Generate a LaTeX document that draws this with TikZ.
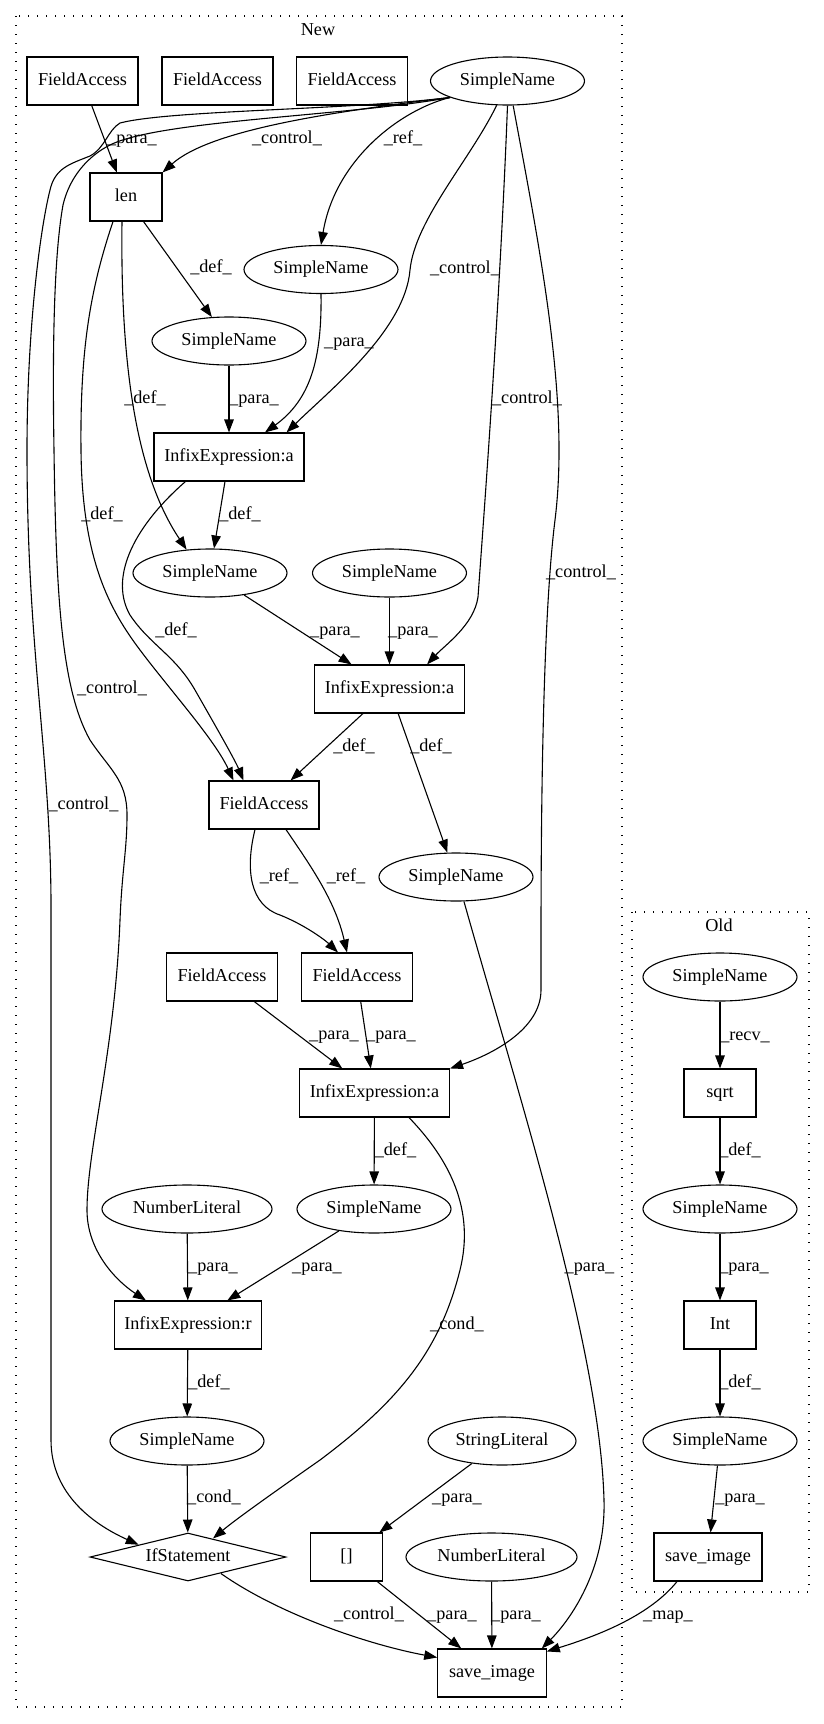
\documentclass[tikz,border=0pt]{standalone}
\usepackage{fontspec}
\setmainfont{Liberation Serif}
\usetikzlibrary{shapes.geometric,arrows.meta,calc}
\begin{document}
\begin{tikzpicture}[x=1pt,y=-1pt,
  every node/.style={font=\fontsize{18.2}{22}\selectfont, inner sep=0pt, text height=12.4pt, text depth=4pt},
  bx/.style={draw, rectangle, line width=1.1pt, minimum height=48pt},
  el/.style={draw, ellipse, line width=1.1pt, minimum height=48pt, minimum width=154pt},
  dm/.style={draw, diamond, line width=1.1pt, minimum width=196pt, minimum height=48pt, shape aspect=4},
  e/.style={-{Triangle[length=13pt,width=9.5pt]}, line width=1.1pt},
  lbl/.style={},
  clu/.style={line width=1.1pt, dash pattern=on 1.3pt off 7.7pt}
]
\useasboundingbox (0,0) rectangle (824,1724);
% clusters
\draw[clu] (16,16) rectangle (622,1707);
\node (newlbl) at (318,31) {New};
\draw[clu] (632,912) rectangle (809,1592);
\node (oldlbl) at (719,927) {Old};

% New nodes
\node[bx,minimum width=111pt] (faA) at (82.5,81) {FieldAccess};
\node[bx,minimum width=111pt] (faB) at (217.5,81) {FieldAccess};
\node[bx,minimum width=111pt] (faC) at (352,81) {FieldAccess};
\node[el] (snTop) at (507.5,81) {SimpleName};
\node[bx,minimum width=72pt] (len) at (126,197) {len};
\node[el] (snRef) at (321,269.5) {SimpleName};
\node[el] (snDef) at (229,341) {SimpleName};
\node[bx,minimum width=150pt] (ix1) at (229,457) {InfixExpression:a};
\node[el] (snA) at (210,573) {SimpleName};
\node[el] (snB) at (389.5,573) {SimpleName};
\node[bx,minimum width=150pt] (ix2) at (389.5,689) {InfixExpression:a};
\node[bx,minimum width=110pt] (faM) at (264,805) {FieldAccess};
\node[el] (snC) at (456,877) {SimpleName};
\node[bx,minimum width=111pt] (faL) at (222,977) {FieldAccess};
\node[bx,minimum width=111pt] (faR) at (357,977) {FieldAccess};
\node[bx,minimum width=150pt] (ix3) at (374.5,1093) {InfixExpression:a};
\node[el,minimum width=170pt] (nl1) at (187,1209) {NumberLiteral};
\node[el] (snD) at (374,1209) {SimpleName};
\node[bx,minimum width=147pt] (ixr) at (188,1325) {InfixExpression:r};
\node[el] (snE) at (187,1441) {SimpleName};
\node[el,minimum width=148pt] (strl) at (502,1441) {StringLiteral};
\node[dm] (ifs) at (188,1557) {IfStatement};
\node[bx,minimum width=72pt] (br) at (346.5,1557) {[]};
\node[el,minimum width=171pt] (nl2) at (491.5,1557) {NumberLiteral};
\node[bx,minimum width=108.5pt] (saveN) at (492,1673) {save\_image};

% Old nodes
\node[el] (oSn1) at (720,977) {SimpleName};
\node[bx,minimum width=72pt] (osqrt) at (720,1093) {sqrt};
\node[el] (oSn2) at (720,1209) {SimpleName};
\node[bx,minimum width=72pt] (oint) at (720,1325) {Int};
\node[el] (oSn3) at (720,1441) {SimpleName};
\node[bx,minimum width=108pt] (oSave) at (708,1557) {save\_image};

% edges
\draw[e] (faA) -- (len);
\draw[e] (snTop.196) .. controls (330,112) and (210,130) .. (len.north east);
\draw[e] (snTop.196) .. controls (400,110) and (335,160) .. (snRef.north);
\draw[e] (snTop.246) .. controls (470,160) and (415,220) .. (410,270) .. controls (405,330) and (330,390) .. ($(ix1.north east)+(-18,0)$);
\draw[e] (snTop.south) .. controls (500,300) and (485,500) .. (478,597) .. controls (474,625) and (445,645) .. ($(ix2.north east)+(-38,0)$);
\draw[e] (snTop.283) .. controls (540,250) and (570,400) .. (555,520) .. controls (540,640) and (541,900) .. (541,990) .. controls (541,1030) and (490,1055) .. (ix3.north east);
\draw[e] (snTop.196) .. controls (350,116) and (160,120) .. (110,145) .. controls (90,155) and (70,175) .. (63,205) .. controls (55,250) and (52,330) .. (54,450) .. controls (56,600) and (62,690) .. (90,740) .. controls (110,770) and (127,780) .. (127,815) .. controls (127,850) and (122,870) .. (120,920) .. controls (115,1050) and (87,1150) .. (87,1210) .. controls (87,1250) and (115,1280) .. ($(ixr.north west)+(32,0)$);
\draw[e] (snTop.196) .. controls (350,110) and (170,110) .. (120,123) .. controls (108,130) and (105,148) .. (90,156) .. controls (70,164) and (55,168) .. (50,190) .. controls (40,230) and (27,330) .. (27,450) .. controls (27,650) and (50,750) .. (51,900) -- (51,1440) .. controls (51,1495) and (95,1525) .. (ifs.north west);
\draw[e] (len) -- (snDef);
\draw[e] ($(len.south)+(-4,0)$) .. controls (120,380) and (140,480) .. (snA.135);
\draw[e] ($(len.south)+(-13,0)$) .. controls (90,290) and (80,350) .. (81,450) .. controls (82,560) and (110,610) .. (140,650) .. controls (170,690) and (215,740) .. ($(faM.north west)+(25,0)$);
\draw[e] (ix1) -- (snA);
\draw[e] ($(ix1.south west)+(32,0)$) .. controls (130,530) and (110,580) .. (130,615) .. controls (150,645) and (175,655) .. (195,690) .. controls (215,725) and (235,760) .. ($(faM.north west)+(35,0)$);
\draw[e] (snRef.south) .. controls (322,360) and (310,400) .. ($(ix1.north)+(36,0)$);
\draw[e] (snDef) -- (ix1);
\draw[e] (snA) -- (ix2);
\draw[e] (snB) -- (ix2);
\draw[e] (ix2) -- (faM);
\draw[e] (ix2) -- (snC);
\draw[e] ($(faM.south)+(-9,0)$) .. controls (245,870) and (250,905) .. (280,915) .. controls (305,925) and (325,940) .. ($(faR.north)+(-19,0)$);
\draw[e] ($(faM.south)+(22,0)$) .. controls (310,865) and (335,900) .. ($(faR.north)+(-10,0)$);
\draw[e] (snC.-72) .. controls (520,1100) and (600,1350) .. (604,1500) .. controls (606,1570) and (570,1620) .. ($(saveN.north east)+(-5,0)$);
\draw[e] (faL) -- (ix3);
\draw[e] (faR) -- (ix3);
\draw[e] (ix3) -- (snD);
\draw[e] ($(ix3.south)+(34.5,0)$) .. controls (450,1160) and (475,1210) .. (460,1270) .. controls (440,1350) and (400,1400) .. (320,1460) .. controls (270,1495) and (235,1520) .. ($(ifs.north)+(25,6)$);
\draw[e] (nl1) -- (ixr);
\draw[e] (snD) -- (ixr);
\draw[e] (ixr) -- (snE);
\draw[e] (snE) -- (ifs);
\draw[e] (strl) -- (br);
\draw[e] ($(ifs.south)+(33,-8)$) .. controls (280,1615) and (370,1645) .. ($(saveN.north west)+(0,9)$);
\draw[e] (br) -- (saveN);
\draw[e] (nl2) -- (saveN);
\draw[e] ($(oSave.south)+(-31,0)$) .. controls (650,1615) and (600,1635) .. ($(saveN.north east)+(0,3)$);
\draw[e] (oSn1) -- (osqrt);
\draw[e] (osqrt) -- (oSn2);
\draw[e] (oSn2) -- (oint);
\draw[e] (oint) -- (oSn3);
\draw[e] (oSn3) -- (oSave);

% edge labels
\node[lbl] (l1) at (132,139) {\_para\_};
\node[lbl] (l2) at (287,139) {\_control\_};
\node[lbl] (l3) at (403,139) {\_ref\_};
\node[lbl] (l4) at (465,269) {\_control\_};
\node[lbl] (l5) at (527,399) {\_control\_};
\node[lbl] (l6) at (581,573) {\_control\_};
\node[lbl] (l7) at (112,689) {\_control\_};
\node[lbl] (l8) at (83.5,805) {\_control\_};
\node[lbl] (l9) at (211,268) {\_def\_};
\node[lbl] (l10) at (145,399) {\_def\_};
\node[lbl] (l11) at (102,515) {\_def\_};
\node[lbl] (l12) at (240,515) {\_def\_};
\node[lbl] (l13) at (176,631) {\_def\_};
\node[lbl] (l14) at (349,342) {\_para\_};
\node[lbl] (l15) at (254,399) {\_para\_};
\node[lbl] (l16) at (335,631) {\_para\_};
\node[lbl] (l17) at (413,631) {\_para\_};
\node[lbl] (l18) at (354,747) {\_def\_};
\node[lbl] (l19) at (431,747) {\_def\_};
\node[lbl] (l20) at (279,877) {\_ref\_};
\node[lbl] (l21) at (346,877) {\_ref\_};
\node[lbl] (l22) at (589.5,1267) {\_para\_};
\node[lbl] (l23) at (334,1035) {\_para\_};
\node[lbl] (l24) at (391,1035) {\_para\_};
\node[lbl] (l25) at (395.5,1151) {\_def\_};
\node[lbl] (l26) at (457,1325) {\_cond\_};
\node[lbl] (l27) at (213,1267) {\_para\_};
\node[lbl] (l28) at (317,1267) {\_para\_};
\node[lbl] (l29) at (209,1383) {\_def\_};
\node[lbl] (l30) at (214,1498) {\_cond\_};
\node[lbl] (l31) at (457,1498) {\_para\_};
\node[lbl] (l32) at (369,1615) {\_control\_};
\node[lbl] (l33) at (452,1615) {\_para\_};
\node[lbl] (l34) at (516,1615) {\_para\_};
\node[lbl] (l35) at (668,1615) {\_map\_};
\node[lbl] (l36) at (745,1036) {\_recv\_};
\node[lbl] (l37) at (740,1151) {\_def\_};
\node[lbl] (l38) at (744,1267) {\_para\_};
\node[lbl] (l39) at (740,1383) {\_def\_};
\node[lbl] (l40) at (740,1498) {\_para\_};
\end{tikzpicture}
\end{document}
